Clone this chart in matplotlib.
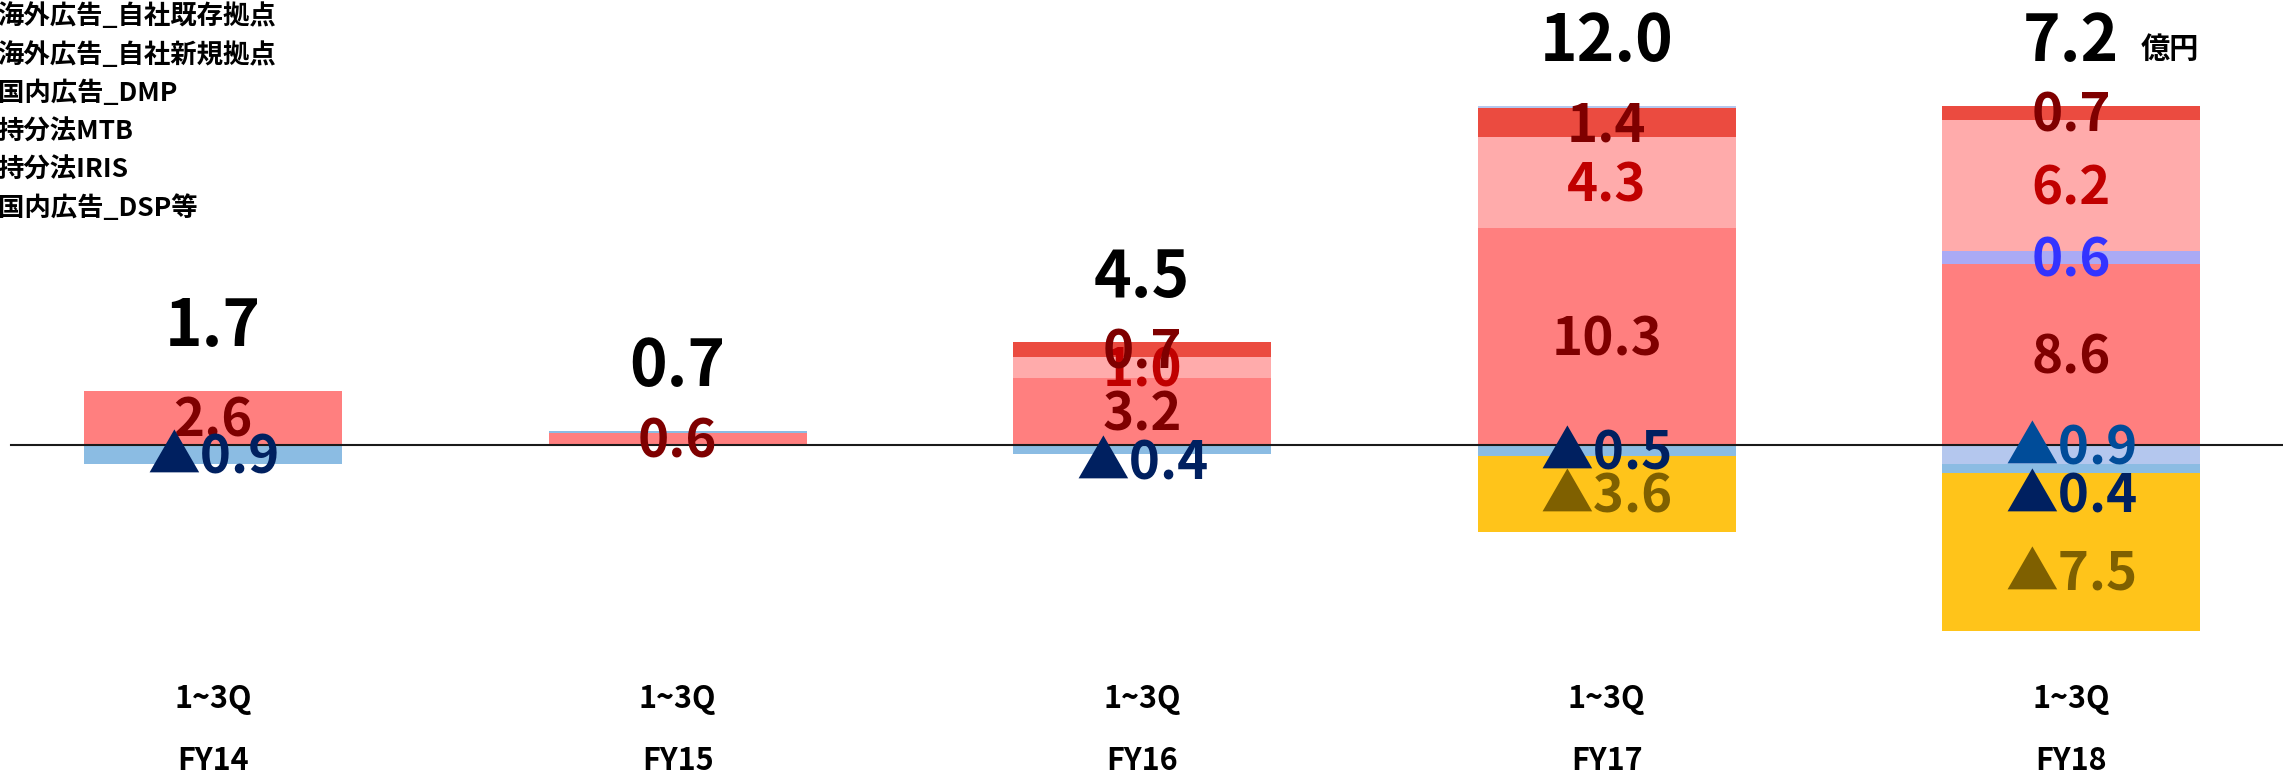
import numpy as np
import matplotlib.pyplot as plt

plt.rcParams['font.family'] = ['Noto Sans CJK JP', 'DejaVu Sans']

## categories
periods = ["1~3Q", "1~3Q", "1~3Q", "1~3Q", "1~3Q"]
years = ["FY14", "FY15", "FY16", "FY17", "FY18"]
totals = [1.7, 0.7, 4.5, 12.0, 7.2]
unit_label = "億円"

legend_names = [
    "海外広告_自社既存拠点",
    "海外広告_自社新規拠点",
    "国内広告_DMP",
    "持分法MTB",
    "持分法IRIS",
    "国内広告_DSP等",
]

## series values (億円), stacked in this order
dsp_vals = [2.6, 0.6, 3.2, 10.3, 8.6]
lav_vals = [0.0, 0.0, 0.0, 0.0, 0.6]
pink_vals = [0.0, 0.0, 1.0, 4.3, 6.2]
red_vals = [0.0, 0.0, 0.7, 1.4, 0.7]
pale_vals = [0.0, 0.0, 0.0, 0.1, -0.9]
sky_vals = [-0.9, 0.1, -0.4, -0.5, -0.4]
yellow_vals = [0.0, 0.0, 0.0, -3.6, -7.5]

series = [
    (dsp_vals, "#FF7F7F", "#7F0000"),
    (lav_vals, "#AAAAF5", "#3333FF"),
    (pink_vals, "#FFABAB", "#C00000"),
    (red_vals, "#EB4B40", "#7F0000"),
    (pale_vals, "#B4C7EE", "#004C99"),
    (sky_vals, "#8BBCE3", "#002060"),
    (yellow_vals, "#FFC41A", "#7F6000"),
]

## manual nudges of a few labels (series index, category index) -> data units
label_nudge = {(5, 2): -0.55, (4, 4): 0.45, (5, 4): -1.2, (6, 4): -0.95}

fig = plt.figure(figsize=(22.83, 7.78), dpi=100)
ax = fig.add_axes([0, 0, 1, 1])
ax.axis("off")
ax.set_xlim(-0.459, 4.456)
ax.set_ylim(-15.76, 21.11)

x = np.arange(len(years))
bar_w = 0.555
pos_bottom = np.zeros(len(years))
neg_bottom = np.zeros(len(years))

for si, (vals, fc, tc) in enumerate(series):
    vals = np.array(vals)
    bottom = np.where(vals >= 0, pos_bottom, neg_bottom)
    ax.bar(x, vals, width=bar_w, bottom=bottom, color=fc, linewidth=0, zorder=2)
    for i, v in enumerate(vals):
        if abs(v) < 0.2:
            continue
        yc = bottom[i] + v / 2 - 0.15 + label_nudge.get((si, i), 0.0)
        txt = f"{v:.1f}" if v > 0 else f"▲{abs(v):.1f}"
        ax.text(x[i], yc, txt, ha="center", va="center", fontsize=38,
                fontweight="bold", color=tc, zorder=4)
    pos_bottom = pos_bottom + np.where(vals > 0, vals, 0)
    neg_bottom = neg_bottom + np.where(vals < 0, vals, 0)

## zero line
ax.axhline(0, xmin=0.005, xmax=1, color="#1a1a1a", linewidth=1.5, zorder=3)

## totals on top
for i, t in enumerate(totals):
    ax.text(x[i], pos_bottom[i] + 3.0, f"{t:.1f}", ha="center", va="center",
            fontsize=46, fontweight="bold", color="black")
ax.text(x[-1] + 0.15, pos_bottom[-1] + 2.7, unit_label, ha="left", va="center",
        fontsize=21, fontweight="bold", color="black")

## category labels
for i in range(len(years)):
    ax.text(x[i], -12.0, periods[i], ha="center", va="center", fontsize=22,
            fontweight="bold", color="black")
    ax.text(x[i], -14.95, years[i], ha="center", va="center", fontsize=22,
            fontweight="bold", color="black")

## legend text (top-left)
for k, name in enumerate(legend_names):
    fig.text(-0.001, 1 - (17 + k * 38.3) / 778, name, ha="left", va="center",
             fontsize=19, fontweight="bold", color="black")

fig.savefig("out.png", dpi=100)
